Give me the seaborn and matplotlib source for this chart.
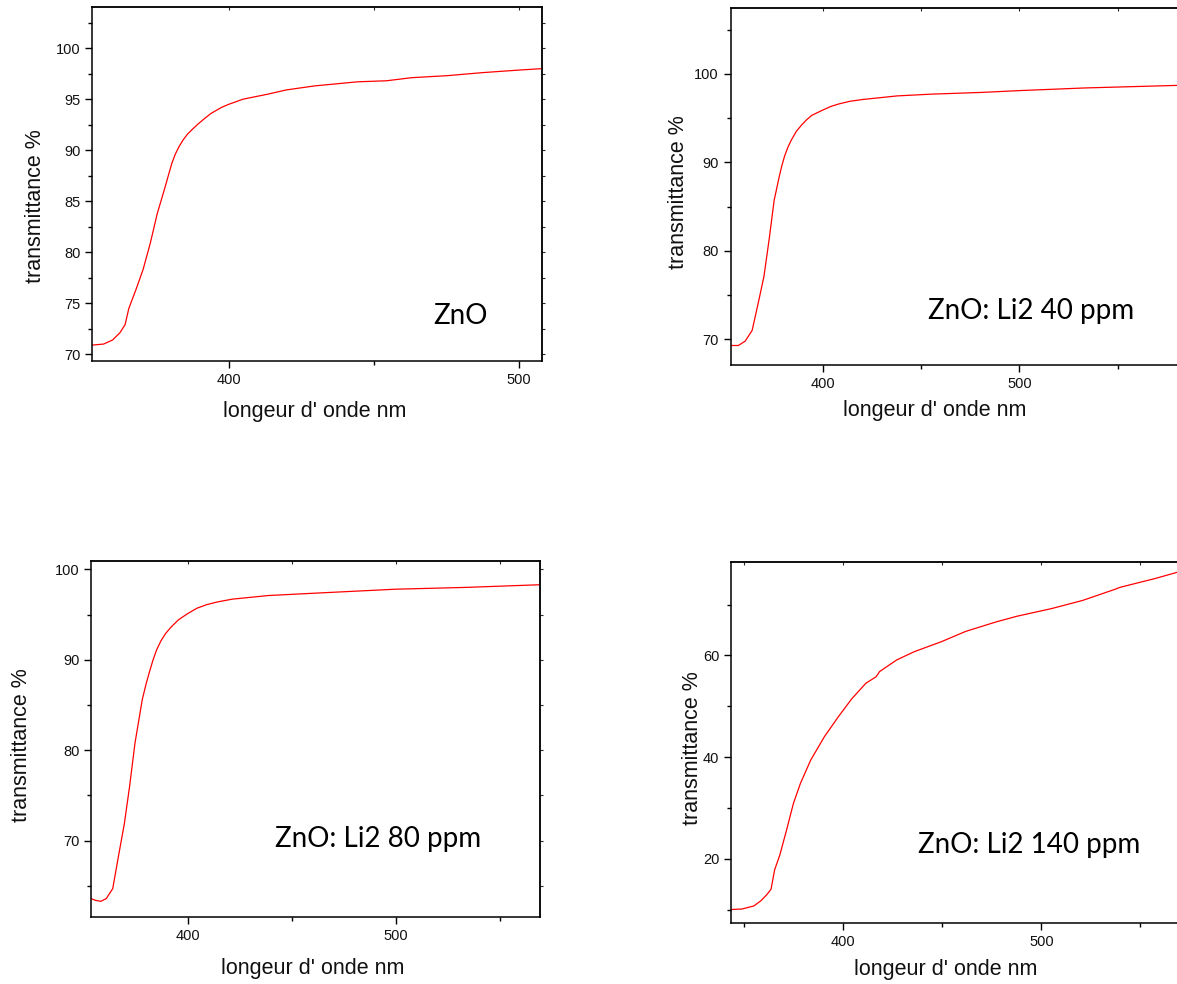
import matplotlib
matplotlib.use("Agg")
import matplotlib.pyplot as plt
from matplotlib.ticker import MultipleLocator
import pandas as pd
import seaborn as sns

# Transmission spectra: wavelength (nm) and transmittance (%) of each film
zno_wl = [352.9, 356.8, 359.9, 362.4, 364.2, 365.5, 367.9, 370.4, 372.9, 375.3,
          377.8, 380.3, 381.5, 382.7, 384.2, 385.8, 387.6, 389.5, 391.6, 393.8,
          397.5, 400.0, 404.9, 413.6, 419.7, 429.6, 444.4, 454.3, 462.9, 475.2,
          487.5, 500.0, 508.4]
zno_t = [70.9, 71.0, 71.4, 72.1, 72.9, 74.5, 76.3, 78.3, 80.9, 83.8,
         86.2, 88.7, 89.6, 90.3, 91.0, 91.6, 92.1, 92.6, 93.1, 93.6,
         94.2, 94.5, 95.0, 95.5, 95.9, 96.3, 96.7, 96.8, 97.1, 97.3,
         97.6, 97.85, 98.0]

li40_wl = [353.6, 357.1, 360.6, 364.1, 367.5, 370.1, 372.7, 375.3, 377.9, 379.2,
           380.6, 382.3, 384.0, 386.6, 389.2, 391.8, 394.4, 397.2, 400.0, 404.0,
           408.3, 414.0, 420.5, 437.8, 455.2, 481.3, 500.0, 533.3, 582.0]
li40_t = [69.3, 69.3, 69.8, 71.0, 74.4, 77.1, 81.2, 85.7, 88.4, 89.6,
          90.7, 91.7, 92.5, 93.5, 94.2, 94.8, 95.3, 95.6, 95.9, 96.3,
          96.6, 96.9, 97.1, 97.5, 97.7, 97.9, 98.1, 98.4, 98.7]

li80_wl = [353.6, 355.7, 358.3, 360.9, 364.0, 367.0, 369.6, 372.1, 374.7, 378.2,
           380.0, 381.7, 383.4, 385.1, 387.2, 389.4, 392.0, 395.5, 400.0, 404.5,
           409.3, 414.5, 421.5, 438.8, 464.7, 500.0, 533.9, 570.2]
li80_t = [63.6, 63.4, 63.3, 63.6, 64.7, 68.6, 71.9, 76.0, 80.8, 85.6,
          87.3, 88.7, 90.0, 91.1, 92.1, 92.9, 93.6, 94.4, 95.1, 95.7,
          96.1, 96.4, 96.7, 97.1, 97.4, 97.8, 98.0, 98.3]

li140_wl = [343.5, 349.0, 355.0, 358.5, 361.5, 363.7, 365.5, 368.1, 371.5, 375.0,
            378.5, 383.7, 390.6, 397.6, 404.5, 411.5, 416.7, 418.4, 427.1, 435.8,
            449.7, 461.8, 477.4, 487.8, 505.2, 520.8, 536.5, 539.9, 557.3, 570.0]
li140_t = [10.0, 10.1, 10.7, 11.7, 12.9, 14.0, 17.8, 20.7, 25.6, 30.9,
           34.8, 39.4, 44.0, 47.9, 51.5, 54.5, 55.8, 56.8, 59.1, 60.7,
           62.7, 64.7, 66.6, 67.7, 69.2, 70.8, 72.9, 73.4, 75.1, 76.5]

sample_names = ["ZnO", "ZnO: Li2 40 ppm", "ZnO: Li2 80 ppm", "ZnO: Li2 140 ppm"]
x_title = "longeur d' onde nm"
y_title = "transmittance %"

sns.set_theme(style="ticks")
plt.rcParams["font.family"] = ["Liberation Sans", "DejaVu Sans"]

W, H = 1177, 984
fig = plt.figure(figsize=(W / 100, H / 100), dpi=100)
fig.patch.set_facecolor("white")


def px_axes(left, top, right, bottom):
    return fig.add_axes([left / W, 1 - bottom / H, (right - left) / W, (bottom - top) / H])


def fig_xy(x, y):
    return x / W, 1 - y / H


panels = [
    dict(wl=zno_wl, t=zno_t, box=(92.3, 7.3, 541.7, 361.0),
         xlim=(352.9, 507.8), ylim=(69.34, 104.0), ymaj=5, ymin=2.5,
         xlab=(314.5, 411.7), ylab=(35.3, 205.7), note=(460.3, 316.0)),
    dict(wl=li40_wl, t=li40_t, box=(730.7, 8.3, 1206.1, 364.7),
         xlim=(353.2, 595.0), ylim=(67.13, 107.4), ymaj=10, ymin=5,
         xlab=(934.7, 410.0), ylab=(678.8, 191.7), note=(1031.0, 311.0)),
    dict(wl=li80_wl, t=li80_t, box=(91.3, 560.7, 539.7, 917.3),
         xlim=(353.7, 569.2), ylim=(61.53, 100.95), ymaj=10, ymin=5,
         xlab=(312.7, 968.7), ylab=(21.2, 745.0), note=(378.0, 839.5)),
    dict(wl=li140_wl, t=li140_t, box=(731.0, 562.0, 1219.8, 923.0),
         xlim=(343.5, 590.0), ylim=(7.35, 78.36), ymaj=20, ymin=10,
         xlab=(945.7, 969.5), ylab=(692.5, 748.3), note=(1028.7, 844.5)),
]

for name, p in zip(sample_names, panels):
    ax = px_axes(*p["box"])
    ax.set_facecolor("white")
    df = pd.DataFrame({"wavelength": p["wl"], "transmittance": p["t"]})
    sns.lineplot(data=df, x="wavelength", y="transmittance", ax=ax,
                 color="#ff0000", linewidth=0.9, estimator=None, sort=False)
    ax.set_xlim(*p["xlim"])
    ax.set_ylim(*p["ylim"])

    ax.xaxis.set_major_locator(MultipleLocator(100))
    ax.xaxis.set_minor_locator(MultipleLocator(50))
    ax.yaxis.set_major_locator(MultipleLocator(p["ymaj"]))
    ax.yaxis.set_minor_locator(MultipleLocator(p["ymin"]))
    ax.tick_params(which="major", direction="out", length=5, width=1.0,
                   color="black", labelsize=10.5, pad=3.5, labelcolor="#111111")
    ax.tick_params(which="minor", direction="out", length=2.8, width=1.0, color="black")
    for sp in ax.spines.values():
        sp.set_visible(True)
        sp.set_color("black")
        sp.set_linewidth(1.1)

    # small ticks along the top and right frame
    top = ax.secondary_xaxis("top")
    top.xaxis.set_major_locator(MultipleLocator(50))
    top.tick_params(direction="in", length=1.8, width=0.8, labeltop=False)
    top.spines["top"].set_linewidth(1.1)
    right = ax.secondary_yaxis("right")
    right.yaxis.set_major_locator(MultipleLocator(p["ymin"]))
    right.tick_params(direction="out", length=1.8, width=0.8, labelright=False)
    right.spines["right"].set_linewidth(1.1)

    ax.set_xlabel(x_title, fontsize=15.5, va="center", ha="center", color="#111111")
    ax.xaxis.set_label_coords(*fig_xy(*p["xlab"]), transform=fig.transFigure)
    ax.set_ylabel(y_title, fontsize=15.5, va="center", ha="center", color="#111111")
    ax.yaxis.set_label_coords(*fig_xy(*p["ylab"]), transform=fig.transFigure)

    nx, ny = fig_xy(*p["note"])
    ax.text(nx, ny, name, transform=fig.transFigure, fontsize=20,
            family=["Lato", "DejaVu Sans"], ha="center", va="center", color="black")

fig.savefig("out.png", dpi=100, facecolor="white")
